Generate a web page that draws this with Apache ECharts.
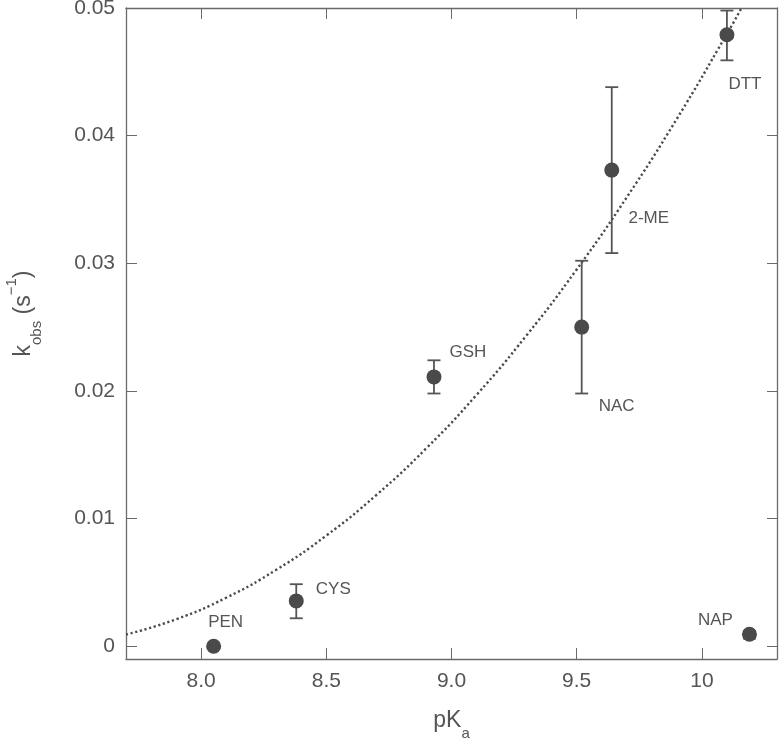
<!DOCTYPE html>
<html>
<head>
<meta charset="utf-8">
<script src="https://cdn.jsdelivr.net/npm/echarts@6/dist/echarts.min.js"></script>
<style>
html,body{margin:0;padding:0;background:#fff;}
#chart{width:779px;height:740px;}
</style>
</head>
<body>
<div id="chart"></div>
<script>
// ---- data ----
var names = ['PEN', 'CYS', 'GSH', 'NAC', '2-ME', 'DTT', 'NAP'];
var pKa = [8.05, 8.38, 8.93, 9.52, 9.64, 10.10, 10.19];
var kobs = [0.0000, 0.00355, 0.0211, 0.0250, 0.0373, 0.0479, 0.00094];
var errLow = [0.0000, 0.00219, 0.0198, 0.0198, 0.0308, 0.0459, 0.0006];
var errHigh = [0.0000, 0.00486, 0.0224, 0.0302, 0.0438, 0.0498, 0.0012];

// dotted fit curve
var curveX = [7.7, 7.9, 8.1, 8.3, 8.5, 8.7, 8.9, 9.1, 9.3, 9.5, 9.7, 9.9, 10.1, 10.16];
var curveY = [0.00091, 0.00211, 0.00380, 0.00599, 0.00867, 0.01185, 0.01552, 0.01969, 0.02436, 0.02952, 0.03517, 0.04132, 0.04797, 0.05006];

var xTicks = [8.0, 8.5, 9.0, 9.5, 10];
var xTickLabels = ['8.0', '8.5', '9.0', '9.5', '10'];
var yTicks = [0, 0.01, 0.02, 0.03, 0.04, 0.05];
var yTickLabels = ['0', '0.01', '0.02', '0.03', '0.04', '0.05'];

// ---- styling (label offsets relative to points, px) ----
var labelOffsets = [[12, -24], [37, -12], [34, -25], [35, 79], [37, 48], [18, 50], [-34, -14]];

var FONT = '"Liberation Sans", Arial, Helvetica, sans-serif';
var TXT = '#555555';
var AX = '#6a6a6a';
var PT = '#4a4a4a';

var chart = echarts.init(document.getElementById('chart'), null, {renderer: 'canvas'});

var scatterData = pKa.map(function (x, i) {
  return {
    value: [x, kobs[i]],
    label: {
      show: true,
      formatter: names[i],
      position: 'inside',
      offset: labelOffsets[i],
      align: 'center',
      verticalAlign: 'middle',
      color: TXT,
      fontSize: 17,
      fontFamily: FONT
    }
  };
});

var errData = pKa.map(function (x, i) { return [x, errLow[i], errHigh[i]]; });
var curveData = curveX.map(function (x, i) { return [x, curveY[i]]; });

function axisCommon() {
  return {
    axisLine: {show: true, onZero: false, lineStyle: {color: AX, width: 1.3}},
    splitLine: {show: false}
  };
}

var option = {
  animation: false,
  backgroundColor: '#ffffff',
  grid: {left: 126, right: 2, top: 8, bottom: 81, containLabel: false, outerBoundsMode: 'none'},
  xAxis: [
    Object.assign(axisCommon(), {
      type: 'value', min: 7.7, max: 10.3, position: 'bottom',
      axisTick: {show: true, inside: true, length: 11, customValues: xTicks, lineStyle: {color: AX, width: 1}},
      axisLabel: {
        show: true, customValues: xTicks, margin: 12,
        formatter: function (v) { var i = xTicks.indexOf(v); return i >= 0 ? xTickLabels[i] : ''; },
        color: TXT, fontSize: 21, fontFamily: FONT
      },
      name: '{n|pK}{sub|a}',
      nameLocation: 'middle', nameGap: 42,
      nameTextStyle: {
        color: TXT, fontFamily: FONT,
        rich: {
          n: {fontSize: 23, color: TXT, fontFamily: FONT, lineHeight: 40, verticalAlign: 'middle'},
          sub: {fontSize: 15, color: TXT, fontFamily: FONT, lineHeight: 15, verticalAlign: 'bottom'}
        }
      }
    }),
    Object.assign(axisCommon(), {
      type: 'value', min: 7.7, max: 10.3, position: 'top',
      axisTick: {show: true, inside: true, length: 11, customValues: xTicks, lineStyle: {color: AX, width: 1}},
      axisLabel: {show: false}
    })
  ],
  yAxis: [
    Object.assign(axisCommon(), {
      type: 'value', min: -0.001, max: 0.05, position: 'left',
      axisTick: {show: true, inside: true, length: 11, customValues: yTicks, lineStyle: {color: AX, width: 1}},
      axisLabel: {
        show: true, customValues: yTicks, margin: 11,
        formatter: function (v) {
          for (var i = 0; i < yTicks.length; i++) { if (Math.abs(yTicks[i] - v) < 1e-9) return yTickLabels[i]; }
          return '';
        },
        color: TXT, fontSize: 21, fontFamily: FONT
      },
      name: '{n|k}{sub|obs}{n| (s}{sup|−1}{n|)}',
      nameLocation: 'middle', nameGap: 82, nameRotate: 90,
      nameTextStyle: {
        color: TXT, fontFamily: FONT,
        padding: [0, 0, 0, 40],
        rich: {
          n: {fontSize: 23, color: TXT, fontFamily: FONT, lineHeight: 40, verticalAlign: 'middle'},
          sub: {fontSize: 15, color: TXT, fontFamily: FONT, lineHeight: 15, verticalAlign: 'bottom'},
          sup: {fontSize: 15, color: TXT, fontFamily: FONT, lineHeight: 15, verticalAlign: 'top'}
        }
      }
    }),
    Object.assign(axisCommon(), {
      type: 'value', min: -0.001, max: 0.05, position: 'right',
      axisTick: {show: true, inside: true, length: 10, customValues: yTicks, lineStyle: {color: AX, width: 1}},
      axisLabel: {show: false}
    })
  ],
  series: [
    {
      type: 'line',
      data: curveData,
      xAxisIndex: 0, yAxisIndex: 0,
      smooth: true,
      showSymbol: false,
      clip: true,
      lineStyle: {color: '#4a4a4a', width: 2.4, type: [2.2, 2.6]},
      z: 2
    },
    {
      type: 'custom',
      xAxisIndex: 0, yAxisIndex: 0,
      data: errData,
      encode: {x: 0, y: [1, 2]},
      renderItem: function (params, api) {
        var x = api.value(0);
        var lo = api.coord([x, api.value(1)]);
        var hi = api.coord([x, api.value(2)]);
        var hw = 6.5;
        var st = {stroke: '#555555', lineWidth: 1.8};
        return {
          type: 'group',
          children: [
            {type: 'line', shape: {x1: lo[0], y1: lo[1], x2: hi[0], y2: hi[1]}, style: st},
            {type: 'line', shape: {x1: lo[0] - hw, y1: lo[1], x2: lo[0] + hw, y2: lo[1]}, style: st},
            {type: 'line', shape: {x1: hi[0] - hw, y1: hi[1], x2: hi[0] + hw, y2: hi[1]}, style: st}
          ]
        };
      },
      z: 3
    },
    {
      type: 'scatter',
      xAxisIndex: 0, yAxisIndex: 0,
      data: scatterData,
      symbol: 'circle',
      symbolSize: 15,
      itemStyle: {color: PT, opacity: 1},
      z: 4
    }
  ]
};

chart.setOption(option);
</script>
</body>
</html>
